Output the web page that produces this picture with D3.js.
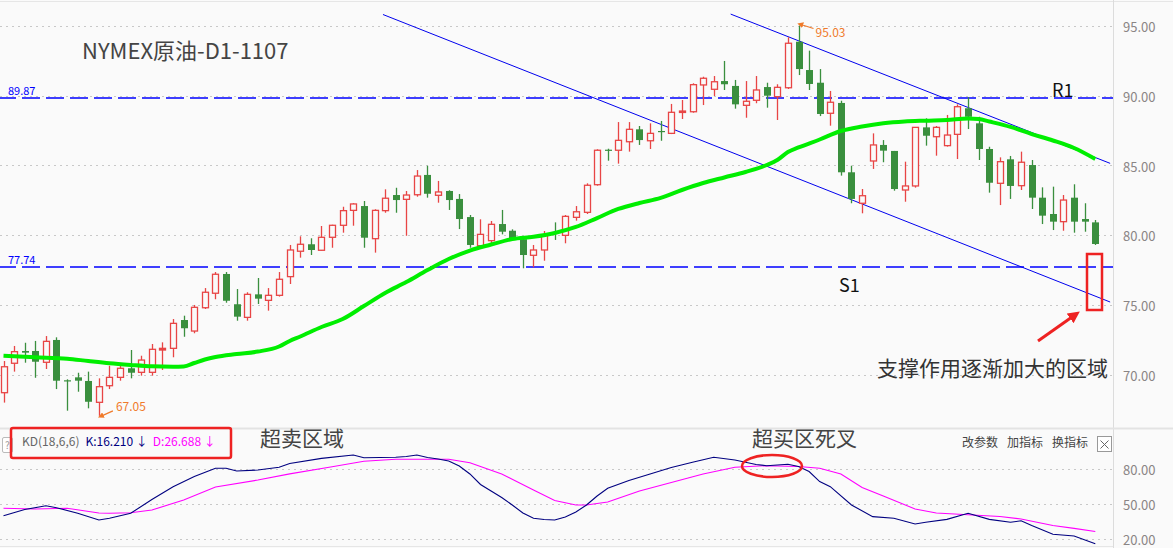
<!DOCTYPE html>
<html><head><meta charset="utf-8">
<script src="https://cdn.jsdelivr.net/npm/d3@7/dist/d3.min.js"></script>
<style>html,body{margin:0;padding:0;background:#fafafa;}svg{display:block;font-family:"Noto Sans CJK SC","Noto Sans",sans-serif;}</style>
</head><body><svg id="c" width="1173" height="548"></svg>
<script>
// ---- data ----
const opens  = [68.71,70.82,71.70,71.70,70.89,72.49,69.60,69.81,69.55,68.02,69.21,69.81,70.46,70.17,70.17,71.77,71.89,73.92,73.13,74.80,75.84,77.22,75.05,74.11,75.76,75.33,75.69,77.03,78.85,79.35,78.92,79.85,80.71,81.78,82.09,79.75,81.76,82.88,82.57,82.90,84.32,82.86,83.17,82.60,81.30,79.25,79.61,80.80,80.32,79.71,78.56,78.94,80.18,79.99,81.28,81.64,83.62,86.13,86.09,86.70,87.59,86.77,87.47,87.30,88.80,88.85,90.77,90.46,91.05,90.70,89.31,89.67,90.62,89.93,90.57,93.87,91.84,90.93,88.74,89.48,84.51,82.29,85.32,86.47,86.04,83.24,83.53,87.73,87.06,86.42,87.23,89.10,88.02,86.18,83.72,85.44,83.55,85.03,82.69,81.52,80.97,82.69,81.16,80.92];
const highs  = [70.98,72.06,72.29,72.42,72.77,72.68,69.67,70.14,70.22,69.74,70.64,70.64,71.77,71.36,72.20,72.32,73.99,74.23,75.00,76.21,77.36,77.36,76.14,75.91,76.93,76.21,77.36,79.30,79.92,79.78,80.66,80.75,82.04,82.30,82.45,81.86,83.29,83.40,83.17,84.67,84.98,83.89,83.22,82.95,81.45,81.14,81.02,81.81,80.42,79.85,79.30,80.30,80.92,81.45,82.09,83.72,86.16,86.20,88.11,88.11,87.83,88.02,88.19,89.41,89.69,90.89,91.36,91.41,92.49,91.13,91.05,91.41,90.93,90.82,94.19,95.03,93.23,91.91,90.34,89.64,84.98,83.31,87.30,86.82,86.04,85.27,87.73,88.38,87.83,88.62,89.38,89.89,88.49,86.34,85.58,85.68,85.99,85.39,83.43,83.48,82.88,83.65,82.29,81.09];
const lows   = [68.00,70.22,70.86,69.78,70.41,68.97,67.42,68.78,67.59,67.05,68.97,69.57,69.74,69.93,69.93,70.34,71.25,72.72,72.97,74.71,75.41,75.16,73.87,73.87,75.07,74.59,75.60,76.50,78.39,78.58,78.90,79.10,80.18,80.68,79.10,78.75,81.61,81.61,79.96,82.76,82.69,82.33,81.81,80.44,79.10,79.20,79.42,80.06,79.75,77.63,77.70,78.17,79.66,79.42,81.04,81.52,83.55,85.34,85.13,85.99,86.47,86.18,86.77,87.25,88.33,88.78,89.33,89.98,90.41,89.07,88.42,89.46,89.14,88.26,90.48,91.48,90.41,88.54,87.85,84.27,82.29,81.57,84.75,85.23,83.19,82.40,83.41,86.42,85.70,86.35,85.46,87.61,85.39,83.05,82.16,82.60,83.24,81.88,80.80,80.37,80.32,80.18,80.25,79.30];
const closes = [70.57,71.65,71.58,70.93,72.39,69.57,69.55,69.57,68.06,69.14,69.81,70.46,70.14,71.05,71.82,71.89,73.68,73.33,74.83,75.91,77.20,75.30,74.16,75.76,75.45,75.69,76.84,78.94,79.35,78.94,79.85,80.71,81.76,82.24,79.82,81.78,82.65,82.52,82.88,84.24,82.97,83.10,82.52,81.16,79.30,80.06,80.78,80.25,79.78,78.58,78.94,79.99,80.10,81.35,81.68,83.58,86.09,86.08,86.80,87.59,86.82,87.30,87.42,88.81,88.90,90.79,91.25,91.00,90.82,89.38,89.60,90.41,90.00,90.60,93.76,91.91,90.84,88.69,89.53,84.51,82.60,82.83,86.47,86.06,83.31,83.53,87.73,87.13,87.73,87.18,89.21,88.49,86.18,83.76,85.27,83.53,85.23,82.69,81.40,80.97,82.52,80.97,80.97,79.37];
// moving average: [candle index, value]
const maLine = [[0,71.36],[3,71.25],[6,71.15],[8,70.98],[10,70.82],[12,70.70],[14,70.60],[16,70.57],[17,70.59],[18,70.84],[19,71.09],[20,71.27],[22,71.48],[24,71.66],[26,72.02],[27,72.42],[28,72.74],[30,73.42],[32,73.99],[34,74.92],[36,75.86],[38,76.64],[40,77.50],[42,78.29],[44,78.90],[46,79.33],[48,79.73],[50,79.89],[52,80.16],[54,80.59],[56,81.23],[58,81.88],[60,82.31],[62,82.67],[64,83.24],[66,83.74],[68,84.14],[70,84.53],[72,85.03],[73,85.39],[74,85.96],[75,86.29],[77,86.86],[79,87.47],[81,87.79],[83,88.02],[85,88.15],[87,88.21],[89,88.26],[91,88.37],[92,88.33],[93,88.15],[95,87.76],[97,87.25],[99,86.79],[101,86.25],[103,85.46]];
// KD indicator: [candle index, value]
const kLine = [[0,40.2],[2,45.5],[4,48.8],[5,47.1],[7,42.3],[9,36.5],[10,38.0],[12,42.3],[14,54.1],[16,65.1],[18,73.8],[20,80.9],[21,80.9],[22,78.5],[24,79.4],[26,81.7],[27,85.0],[30,89.4],[33,92.3],[34,89.9],[37,90.3],[38,91.0],[39,92.3],[40,90.1],[41,88.8],[42,87.1],[43,82.8],[44,76.0],[45,67.0],[46,61.4],[47,55.8],[48,49.4],[49,42.5],[50,38.0],[51,37.0],[52,36.5],[53,39.1],[54,43.4],[55,49.4],[56,57.1],[57,63.7],[59,70.4],[61,76.0],[63,81.5],[65,86.0],[67,90.3],[69,88.0],[71,84.1],[72,83.1],[74,84.3],[75,82.4],[76,78.1],[77,69.5],[78,65.1],[80,49.4],[82,39.4],[84,38.0],[86,33.1],[87,34.6],[89,37.1],[91,42.3],[93,37.1],[95,34.6],[96,35.9],[97,31.8],[99,24.3],[101,22.8],[103,16.21]];
const dLine = [[0,46.6],[3,46.0],[6,46.6],[9,42.5],[10,42.3],[12,42.7],[14,45.1],[17,53.7],[20,64.8],[24,70.8],[27,76.1],[31,82.2],[34,86.9],[37,88.6],[42,88.6],[44,85.6],[47,76.0],[50,62.3],[52,53.3],[54,49.4],[55,49.4],[57,52.0],[60,61.4],[63,68.7],[66,76.0],[69,81.7],[72,83.1],[75,82.4],[77,80.9],[79,76.0],[81,64.4],[83,57.1],[86,46.0],[88,42.5],[91,41.1],[94,39.5],[96,37.4],[99,31.8],[101,29.4],[103,26.688]];
const priceTicks = [95,90,85,80,75,70];
const kdTicks = [80,50,20];
const levels = [{v:89.87, name:"R1"},{v:77.74, name:"S1"}];
// channel lines: endpoints [candle index, price]
const channels = [[[68.6,95.85],[104.4,85.15]],[[35.8,95.82],[104.4,75.21]]];
const kdLegend = {name:"KD(18,6,6)", k:"K:16.210", d:"D:26.688"};

// ---- drawing ----
const svg = d3.select("#c");
const W = 1173, H = 548, plotR = 1113;
svg.append("rect").attr("width",W).attr("height",H).attr("fill","#fafafa");
const x = d3.scaleLinear().domain([0,103]).range([3.5, 3.5+103*10.6]);
const y = d3.scaleLinear().domain([70,95]).range([374.7, 25.95]);
const yk = d3.scaleLinear().domain([20,80]).range([539.3, 469.3]);

// frame lines
svg.append("line").attr("x1",0).attr("x2",W).attr("y1",1.5).attr("y2",1.5).attr("stroke","#e6e6e6");
svg.append("line").attr("x1",plotR+0.5).attr("x2",plotR+0.5).attr("y1",0).attr("y2",H).attr("stroke","#dcdcdc");
svg.append("line").attr("x1",0).attr("x2",W).attr("y1",428.5).attr("y2",428.5).attr("stroke","#e3e3e3").attr("stroke-width",2);
svg.append("line").attr("x1",0).attr("x2",plotR).attr("y1",546.5).attr("y2",546.5).attr("stroke","#e6e6e6");

// grids
svg.append("g").selectAll("line").data(priceTicks).join("line")
  .attr("x1",0).attr("x2",plotR).attr("y1",d=>Math.round(y(d))+0.5).attr("y2",d=>Math.round(y(d))+0.5)
  .attr("stroke","#c8c8c8").attr("stroke-dasharray","2,4");
svg.append("g").selectAll("line").data(kdTicks).join("line")
  .attr("x1",0).attr("x2",plotR).attr("y1",d=>Math.round(yk(d))+0.5).attr("y2",d=>Math.round(yk(d))+0.5)
  .attr("stroke","#c8c8c8").attr("stroke-dasharray","2,4");

// axes
const ax = svg.append("g").attr("transform",`translate(${plotR+7},1.5)`)
  .call(d3.axisRight(y).tickValues(priceTicks).tickFormat(d3.format(".2f")).tickSize(0));
const ax2 = svg.append("g").attr("transform",`translate(${plotR+7},1.5)`)
  .call(d3.axisRight(yk).tickValues(kdTicks).tickFormat(d3.format(".2f")).tickSize(0));
[ax,ax2].forEach(a=>{a.select(".domain").remove();
  a.selectAll("text").attr("fill","#8a8585").attr("font-size",13).attr("font-family","'Noto Sans CJK SC',sans-serif").attr("dx",0);});

// horizontal levels
levels.forEach(l=>{
  const yy = Math.round(y(l.v));
  svg.append("line").attr("x1",0).attr("x2",plotR).attr("y1",yy).attr("y2",yy)
    .attr("stroke","#0000ff").attr("stroke-width",1.6).attr("stroke-dasharray","18,6").attr("stroke-dashoffset",2);
  svg.append("text").attr("x",8).attr("y",yy-3).attr("fill","#0000ff").attr("font-size",11).text(l.v.toFixed(2));
});

// channels
channels.forEach(c=>{
  svg.append("line").attr("x1",x(c[0][0])).attr("y1",y(c[0][1])).attr("x2",x(c[1][0])).attr("y2",y(c[1][1]))
    .attr("stroke","#0000ee").attr("stroke-width",1);
});

// candles
const candles = opens.map((o,i)=>({i,o,h:highs[i],l:lows[i],c:closes[i]}));
const g = svg.append("g");
const up = "#e84545", dn = "#3a8f3e";
candles.forEach(d=>{
  const cx = Math.round(x(d.i))+0.5;
  const isUp = d.c >= d.o;
  const col = isUp ? up : dn;
  g.append("line").attr("x1",cx).attr("x2",cx).attr("y1",y(d.h)).attr("y2",y(d.l)).attr("stroke",col).attr("stroke-width",1.3);
  const top = y(Math.max(d.o,d.c)), bot = y(Math.min(d.o,d.c));
  const hgt = Math.max(bot-top, 1.2);
  if (isUp) {
    g.append("rect").attr("x",cx-3).attr("y",top).attr("width",6).attr("height",hgt)
      .attr("fill", hgt>2 ? "#fafafa" : up).attr("stroke",up).attr("stroke-width",1.3);
  } else {
    g.append("rect").attr("x",cx-3.5).attr("y",top).attr("width",7).attr("height",hgt).attr("fill",dn);
  }
});

// MA line
svg.append("path").datum(maLine)
  .attr("d", d3.line().x(d=>x(d[0])).y(d=>y(d[1])).curve(d3.curveMonotoneX))
  .attr("fill","none").attr("stroke","#00ee00").attr("stroke-width",4).attr("stroke-linejoin","round");

// KD lines
svg.append("path").datum(dLine).attr("d", d3.line().x(d=>x(d[0])).y(d=>yk(d[1])))
  .attr("fill","none").attr("stroke","#ff00ff").attr("stroke-width",1.1);
svg.append("path").datum(kLine).attr("d", d3.line().x(d=>x(d[0])).y(d=>yk(d[1])))
  .attr("fill","none").attr("stroke","#000080").attr("stroke-width",1.1);

// high/low annotations
const orange = "#f07a2a";
svg.append("defs").html(`<marker id="oa" viewBox="0 0 10 10" refX="1" refY="5" markerWidth="5" markerHeight="5" orient="auto-start-reverse"><path d="M0,0 L10,5 L0,10 z" fill="${orange}"/></marker>
<marker id="ra" viewBox="0 0 10 10" refX="2" refY="5" markerWidth="4" markerHeight="4" orient="auto"><path d="M0,0 L10,5 L0,10 z" fill="#ee2222"/></marker>`);
const hiIdx = highs.indexOf(d3.max(highs)), loIdx = lows.indexOf(d3.min(lows));
svg.append("line").attr("x1",x(hiIdx)+15).attr("y1",y(highs[hiIdx])+3).attr("x2",x(hiIdx)+4).attr("y2",y(highs[hiIdx])-0.5)
  .attr("stroke",orange).attr("stroke-width",1.2).attr("marker-end","url(#oa)");
svg.append("text").attr("x",x(hiIdx)+17).attr("y",y(highs[hiIdx])+11).attr("fill",orange).attr("font-size",12).text(highs[hiIdx].toFixed(2));
svg.append("line").attr("x1",x(loIdx)+14).attr("y1",y(lows[loIdx])-5).attr("x2",x(loIdx)+4).attr("y2",y(lows[loIdx])-0.5)
  .attr("stroke",orange).attr("stroke-width",1.2).attr("marker-end","url(#oa)");
svg.append("text").attr("x",x(loIdx)+17).attr("y",y(lows[loIdx])-5).attr("fill",orange).attr("font-size",12).text(lows[loIdx].toFixed(2));

// labels
svg.append("text").attr("x",82).attr("y",59).attr("fill","#444").attr("font-size",22).text("NYMEX原油-D1-1107");
svg.append("text").attr("x",1052).attr("y",97).attr("fill","#111").attr("font-size",18).text(levels[0].name);
svg.append("text").attr("x",839).attr("y",292).attr("fill","#111").attr("font-size",18).text(levels[1].name);
svg.append("text").attr("x",877).attr("y",376).attr("fill","#333").attr("font-size",21).text("支撑作用逐渐加大的区域");

// red annotation box + arrow
svg.append("rect").attr("x",1087).attr("y",254).attr("width",15).attr("height",56).attr("fill","none").attr("stroke","#ee2222").attr("stroke-width",2.5);
svg.append("line").attr("x1",1038).attr("y1",341).attr("x2",1072).attr("y2",317).attr("stroke","#ee2222").attr("stroke-width",3).attr("marker-end","url(#ra)");

// KD legend
svg.append("rect").attr("x",2.5).attr("y",437.5).attr("width",10).attr("height",15).attr("fill","#fff").attr("stroke","#bbb").attr("rx",1.5);
svg.append("text").attr("x",5).attr("y",449).attr("fill","#999").attr("font-size",10).text("?");
svg.append("rect").attr("x",11).attr("y",428).attr("width",220).attr("height",30).attr("fill","none").attr("stroke","#ee2222").attr("stroke-width",2.5).attr("rx",2);
const lg = svg.append("text").attr("x",22).attr("y",446).attr("font-size",12);
lg.append("tspan").attr("fill","#666").text(kdLegend.name);
lg.append("tspan").attr("dx",6).attr("fill","#000080").text(kdLegend.k + " ↓");
lg.append("tspan").attr("dx",5).attr("fill","#ff00ff").text(kdLegend.d + " ↓");
svg.append("text").attr("x",260).attr("y",446).attr("fill","#444").attr("font-size",21).text("超卖区域");
svg.append("text").attr("x",752).attr("y",446).attr("fill","#444").attr("font-size",21).text("超买区死叉");
svg.append("ellipse").attr("cx",772).attr("cy",466).attr("rx",30).attr("ry",11).attr("fill","none").attr("stroke","#ee2222").attr("stroke-width",2.5);
const tools = ["改参数","加指标","换指标"];
svg.append("g").selectAll("text").data(tools).join("text")
  .attr("x",(d,i)=>962+i*45).attr("y",447).attr("fill","#444").attr("font-size",12).text(d=>d);
svg.append("rect").attr("x",1097.5).attr("y",436.5).attr("width",14).attr("height",15).attr("fill","#fff").attr("stroke","#999");
svg.append("path").attr("d","M1100.5,440.5 L1108.5,448.5 M1108.5,440.5 L1100.5,448.5").attr("stroke","#666").attr("stroke-width",1);
</script></body></html>
